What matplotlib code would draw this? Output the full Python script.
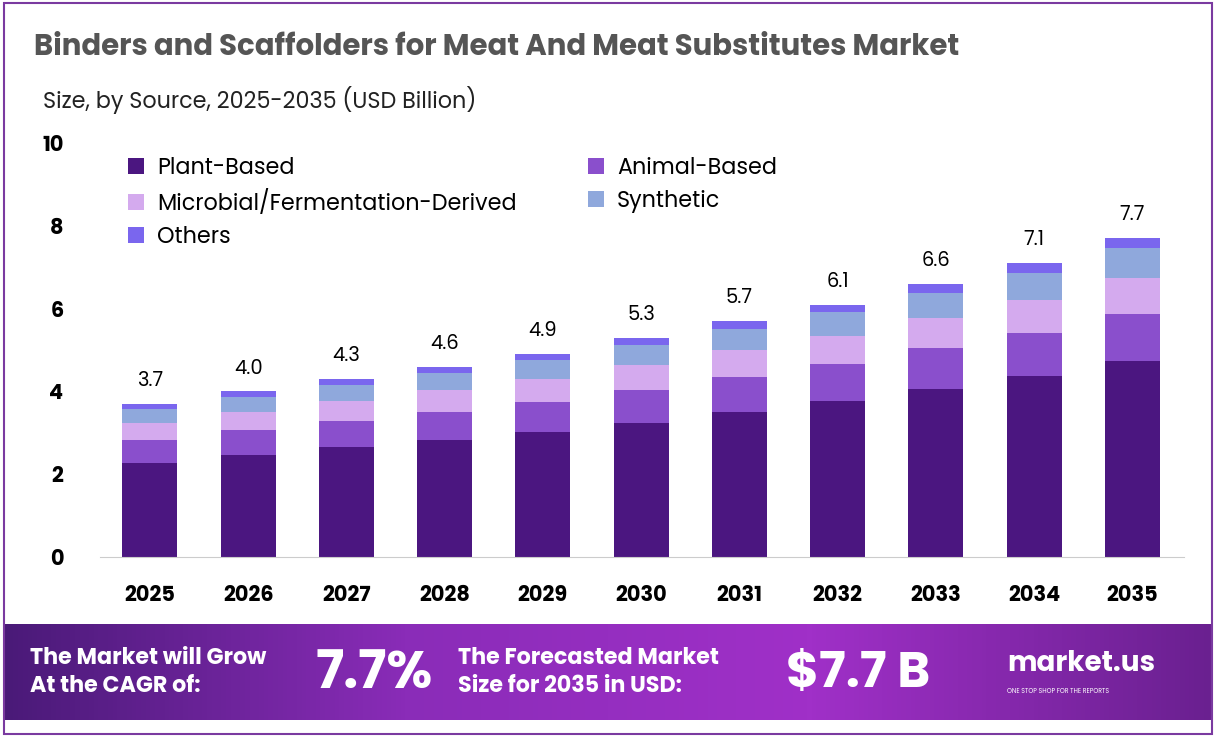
import matplotlib.pyplot as plt
import numpy as np
from matplotlib.patches import Rectangle
from matplotlib.colors import LinearSegmentedColormap

plt.rcParams['font.family'] = ['Poppins', 'Lato', 'DejaVu Sans']

years = ['2025', '2026', '2027', '2028', '2029', '2030', '2031', '2032', '2033', '2034', '2035']
totals = [3.7, 4.0, 4.3, 4.6, 4.9, 5.3, 5.7, 6.1, 6.6, 7.1, 7.7]
plant = [2.27, 2.46, 2.65, 2.83, 3.03, 3.25, 3.51, 3.76, 4.07, 4.38, 4.73]
animal = [0.56, 0.60, 0.64, 0.68, 0.72, 0.79, 0.85, 0.90, 0.97, 1.04, 1.14]
micro = [0.41, 0.45, 0.48, 0.52, 0.55, 0.60, 0.64, 0.69, 0.74, 0.80, 0.87]
synth = [0.33, 0.36, 0.39, 0.42, 0.45, 0.48, 0.52, 0.56, 0.60, 0.65, 0.72]
others = [0.13, 0.13, 0.14, 0.15, 0.15, 0.18, 0.18, 0.19, 0.22, 0.23, 0.24]

series = [('Plant-Based', plant, '#4b1680'), ('Animal-Based', animal, '#8a4fcc'),
          ('Microbial/Fermentation-Derived', micro, '#d4aaee'),
          ('Synthetic', synth, '#8fa8dc'), ('Others', others, '#7a66ee')]

fig = plt.figure(figsize=(12.16, 7.37), dpi=100)
fig.patches.append(Rectangle((0.003, 0.004), 0.994, 0.992, transform=fig.transFigure,
                             fill=False, edgecolor='#7a3aa0', linewidth=1.5))
ax = fig.add_axes([0.082, 0.244, 0.892, 0.562])
x = np.arange(len(years))
bottom = np.zeros(len(years))
handles = []
for name, vals, col in series:
    handles.append(ax.bar(x, vals, 0.56, bottom=bottom, color=col, label=name))
    bottom += np.array(vals)
for xi, t in zip(x, totals):
    ax.text(xi, t + 0.55, f'{t:.1f}', ha='center', va='center', fontsize=14)

ax.set_ylim(0, 10)
ax.set_xlim(-0.51, 10.53)
ax.set_yticks([0, 2, 4, 6, 8, 10])
ax.set_xticks(x)
ax.set_xticklabels(years, fontsize=15, fontweight='bold')
ax.tick_params(axis='y', labelsize=15, length=0, pad=26)
ax.tick_params(axis='x', length=0, pad=20)
for lbl in ax.get_yticklabels():
    lbl.set_fontweight('bold')
for s in ['top', 'right', 'left']:
    ax.spines[s].set_visible(False)
ax.spines['bottom'].set_color('#cccccc')
order = [0, 2, 4, 1, 3]
ax.legend([handles[i] for i in order], [series[i][0] for i in order], ncol=2,
          loc='upper left', bbox_to_anchor=(0.008, 1.015), frameon=False,
          fontsize=16, handlelength=0.7, handleheight=0.7, handletextpad=0.6,
          columnspacing=3.2, labelspacing=0.45)

fig.text(0.028, 0.925, 'Binders and Scaffolders for Meat And Meat Substitutes Market',
         fontsize=21, fontweight='bold', color='#555555')
fig.text(0.035, 0.853, 'Size, by Source, 2025-2035 (USD Billion)', fontsize=16, color='#222222')

# footer band
grad = np.linspace(0, 1, 256).reshape(1, -1)
fax = fig.add_axes([0.003, 0.023, 0.994, 0.13])
cm = LinearSegmentedColormap.from_list('f', ['#4a1a78', '#8a2cb8', '#a030c8', '#6a2090'])
fax.imshow(grad, aspect='auto', cmap=cm, extent=(0, 1, 0, 1))
fax.set_axis_off()
fax.text(0.022, 0.5, 'The Market will Grow\nAt the CAGR of:', color='white', fontsize=16,
         fontweight='bold', va='center', linespacing=1.3)
fax.text(0.258, 0.47, '7.7%', color='white', fontsize=38, fontweight='bold', va='center')
fax.text(0.376, 0.5, 'The Forecasted Market\nSize for 2035 in USD:', color='white', fontsize=16,
         fontweight='bold', va='center', linespacing=1.3)
fax.text(0.647, 0.47, '$7.7 B', color='white', fontsize=36, fontweight='bold', va='center')
fax.text(0.830, 0.58, 'market.us', color='white', fontsize=20, fontweight='bold', va='center')
fax.text(0.830, 0.3, 'ONE STOP SHOP FOR THE REPORTS', color='white', fontsize=4.5, va='center')

fig.savefig('out.png', dpi=100)
